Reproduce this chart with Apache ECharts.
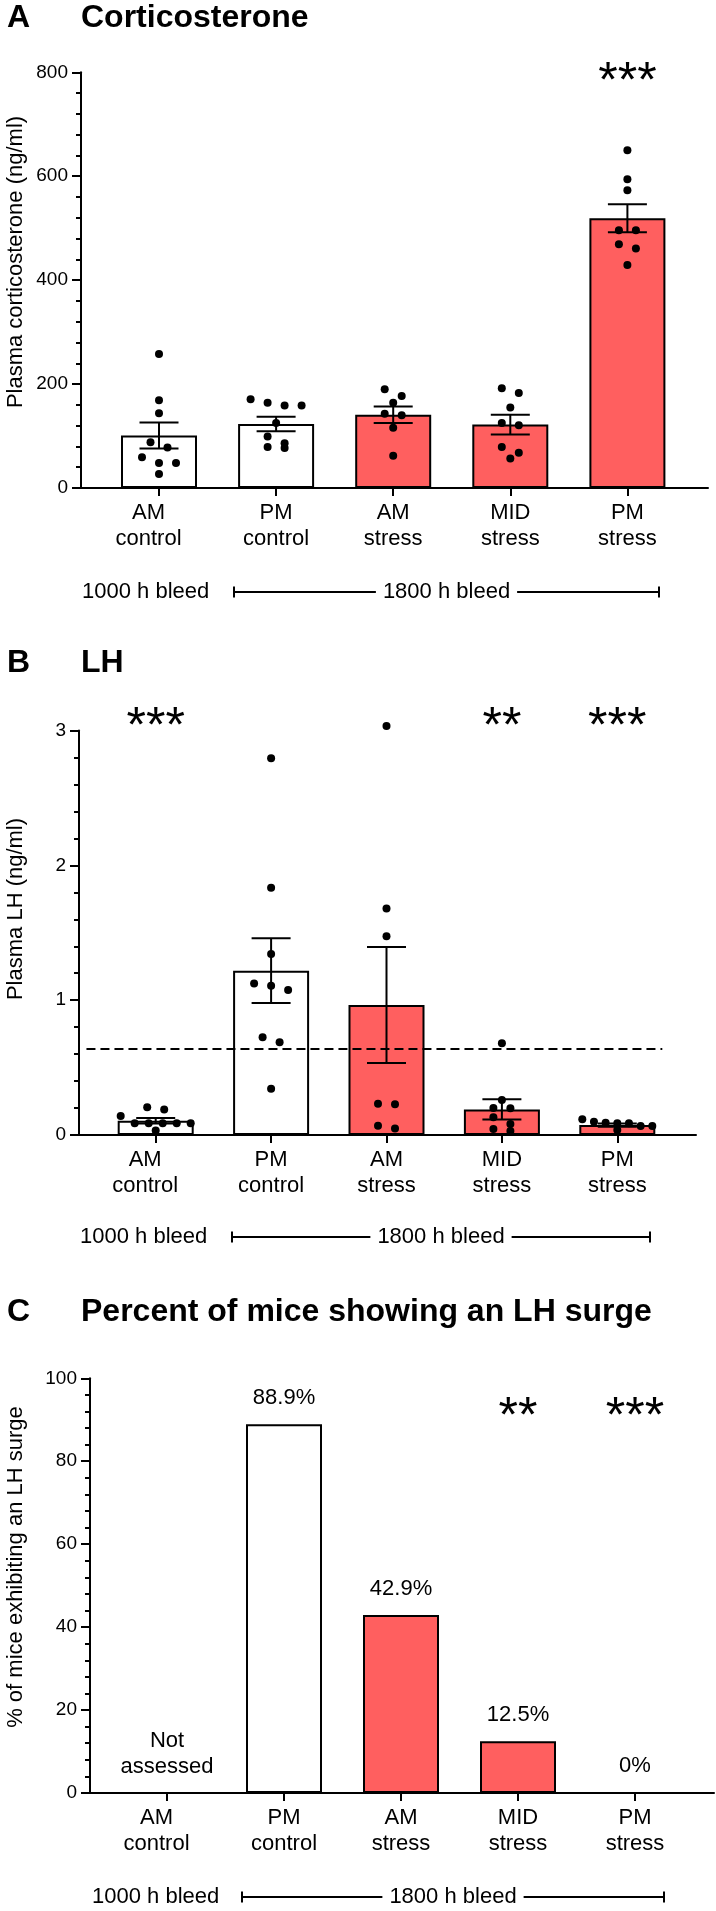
<!DOCTYPE html>
<html>
<head>
<meta charset="utf-8">
<script src="https://cdn.jsdelivr.net/npm/echarts@6/dist/echarts.min.js"></script>
<style>
  html, body { margin: 0; background: #fff; }
  #chart { width: 716px; height: 1911px; }
</style>
</head>
<body>
<div id="chart"></div>
<script>
const groups = ['AM\ncontrol', 'PM\ncontrol', 'AM\nstress', 'MID\nstress', 'PM\nstress']

// A: plasma corticosterone (ng/ml)
const cortMean = [101, 123, 141, 122, 519]
const cortSem = [25, 14, 16, 19, 27]
const cortPoints = [
  [258, 169, 144, 88, 78, 59, 48, 48, 27],
  [171, 164, 159, 159, 125, 99, 86, 79, 77],
  [190, 177, 164, 143, 140, 116, 62],
  [192, 183, 155, 125, 121, 79, 68, 57],
  [650, 594, 573, 496, 496, 469, 461, 429]
]
const cortStars = ['', '', '', '', '***']

// B: plasma LH (ng/ml)
const lhMean = [0.106, 1.219, 0.964, 0.19, 0.074]
const lhSem = [0.02, 0.24, 0.43, 0.075, 0.012]
const lhPoints = [
  [0.205, 0.19, 0.141, 0.087, 0.087, 0.087, 0.087, 0.087, 0.033],
  [2.795, 1.835, 1.343, 1.123, 1.108, 1.076, 0.725, 0.688, 0.344],
  [3.034, 1.681, 1.474, 0.232, 0.228, 0.069, 0.049],
  [0.68, 0.26, 0.2, 0.198, 0.131, 0.082, 0.045, 0.03],
  [0.116, 0.099, 0.09, 0.087, 0.087, 0.067, 0.067, 0.037]
]
const lhThreshold = 0.643
const lhStars = ['***', '', '', '**', '***']

// C: % of mice with an LH surge (null = not assessed)
const surgePct = [null, 88.9, 42.9, 12.5, 0]
const surgeStars = ['', '', '', '**', '***']

const yTicksA = [0, 200, 400, 600, 800]
const yTicksB = [0, 1, 2, 3]
const yTicksC = [0, 20, 40, 60, 80, 100]

const FONT = '"Liberation Sans", Arial, Helvetica, sans-serif'
const RED = '#ff5f5f'
const fills = ['#ffffff', '#ffffff', RED, RED, RED]

// pixel layout of the three panels
const panels = [
  { left: 81, right: 708, top: 72.3, bottom: 488, c0: 159, step: 117.1, ticks: yTicksA, starLevel: 800 },
  { left: 79, right: 696, top: 730.6, bottom: 1135, c0: 155.7, step: 115.4, ticks: yTicksB, starLevel: 3.1 },
  { left: 90, right: 714, top: 1378.3, bottom: 1793, c0: 167, step: 117, ticks: yTicksC, starLevel: 93 }
]

function swarm(vals, pxPerY, pxPerX) {
  const order = vals.map((v, i) => i).sort((a, b) => vals[b] - vals[a])
  const rows = []
  order.forEach(i => {
    const row = rows[rows.length - 1]
    if (row && (vals[row[0]] - vals[i]) * pxPerY < 8) row.push(i)
    else rows.push([i])
  })
  const off = []
  rows.forEach(row => {
    const n = row.length
    const gap = n > 1 ? Math.min(17, 70 / (n - 1)) : 0
    row.forEach((i, k) => { off[i] = (k - (n - 1) / 2) * gap / pxPerX })
  })
  return off
}

function errorBarItem(params, api) {
  const x = api.value(0), m = api.value(1), e = api.value(2)
  const hi = api.coord([x, m + e]), lo = api.coord([x, m - e])
  const w = 19.5
  const style = { stroke: '#000', lineWidth: 2 }
  return {
    type: 'group',
    children: [
      { type: 'line', shape: { x1: hi[0], y1: hi[1], x2: lo[0], y2: lo[1] }, style },
      { type: 'line', shape: { x1: hi[0] - w, y1: hi[1], x2: hi[0] + w, y2: hi[1] }, style },
      { type: 'line', shape: { x1: lo[0] - w, y1: lo[1], x2: lo[0] + w, y2: lo[1] }, style }
    ]
  }
}

const grid = [], xAxis = [], yAxis = [], series = []
const catIdx = groups.map((g, i) => i)
const labelText = { color: '#000', fontSize: 22, lineHeight: 26, fontFamily: FONT }

panels.forEach((p, k) => {
  const yMax = p.ticks[p.ticks.length - 1]
  grid.push({ left: p.left, top: p.top, width: p.right - p.left, height: p.bottom - p.top })
  xAxis.push({
    gridIndex: k, type: 'value',
    min: (p.left - p.c0) / p.step, max: (p.right - p.c0) / p.step,
    axisLine: { onZero: false, lineStyle: { color: '#000', width: 2 } },
    axisTick: { customValues: catIdx, length: 8, lineStyle: { color: '#000', width: 2 } },
    axisLabel: Object.assign({
      customValues: catIdx, margin: 12,
      formatter: v => {
        const i = Math.round(v)
        // first label sits a little left of its tick in the original
        return i === 0 ? groups[i].split('\n').map(s => '{first|' + s + '}').join('\n') : groups[i]
      },
      rich: { first: Object.assign({ padding: [0, 21, 0, 0] }, labelText) }
    }, labelText),
    splitLine: { show: false }
  })
  yAxis.push({
    gridIndex: k, type: 'value', min: 0, max: yMax, interval: p.ticks[1] - p.ticks[0],
    axisLine: { show: true, onZero: false, lineStyle: { color: '#000', width: 2 } },
    axisTick: { show: true, length: 9, lineStyle: { color: '#000', width: 2 } },
    minorTick: { show: true, splitNumber: 5, length: 5, lineStyle: { color: '#000', width: 2 } },
    axisLabel: { color: '#000', fontSize: 19, margin: 13, fontFamily: FONT },
    splitLine: { show: false }
  })
})

function addPanel(k, means, sems, points) {
  const p = panels[k]
  const pxPerY = (p.bottom - p.top) / p.ticks[p.ticks.length - 1]
  const bar = {
    type: 'bar', xAxisIndex: k, yAxisIndex: k, barWidth: 76, z: 2,
    itemStyle: { borderColor: '#000', borderWidth: 2, opacity: 1 },
    data: means.map((m, i) => ({ value: [i, m], itemStyle: { color: fills[i] } }))
  }
  series.push(bar)
  series.push({
    type: 'custom', xAxisIndex: k, yAxisIndex: k, z: 3, clip: false,
    renderItem: errorBarItem,
    data: means.map((m, i) => [i, m, sems[i]])
  })
  const dots = []
  points.forEach((vals, i) => {
    const off = swarm(vals, pxPerY, p.step)
    vals.forEach((v, j) => dots.push([i + off[j], v]))
  })
  series.push({
    type: 'scatter', xAxisIndex: k, yAxisIndex: k, z: 4, clip: false,
    symbolSize: 8, itemStyle: { color: '#000', opacity: 1 }, data: dots
  })
  return bar
}

function addStars(k, stars) {
  series.push({
    type: 'scatter', xAxisIndex: k, yAxisIndex: k, z: 5, clip: false,
    symbolSize: 1, itemStyle: { color: 'rgba(0,0,0,0)', opacity: 1 },
    label: {
      show: true, position: 'inside', offset: [0, 11], formatter: q => q.value[2],
      color: '#000', fontSize: 50, fontFamily: FONT, opacity: 1
    },
    data: stars.map((s, i) => [i, panels[k].starLevel, s]).filter(d => d[2])
  })
}

addPanel(0, cortMean, cortSem, cortPoints)
addStars(0, cortStars)

const lhBar = addPanel(1, lhMean, lhSem, lhPoints)
lhBar.markLine = {
  silent: true, symbol: 'none', label: { show: false },
  lineStyle: { color: '#000', width: 2, type: [9, 5], opacity: 1 },
  data: [[{ coord: [-0.6, lhThreshold] }, { coord: [4.39, lhThreshold] }]]
}
addStars(1, lhStars)

series.push({
  type: 'bar', xAxisIndex: 2, yAxisIndex: 2, barWidth: 76, z: 2,
  itemStyle: { borderColor: '#000', borderWidth: 2, opacity: 1 },
  label: Object.assign({
    show: true, position: 'top', distance: 13,
    formatter: q => q.data.na ? 'Not\nassessed' : q.value[1] + '%'
  }, labelText),
  data: surgePct.map((v, i) => v === null
    ? { value: [i, 0], na: true, itemStyle: { color: 'rgba(0,0,0,0)', borderWidth: 0 } }
    : { value: [i, v], itemStyle: { color: fills[i] } })
})
addStars(2, surgeStars)

// titles, axis names and bleed brackets
const graphic = []
function text(x, y, str, opts) {
  graphic.push({
    type: 'text', x, y,
    style: Object.assign({ text: str, fill: '#000', font: '22px ' + FONT, verticalAlign: 'middle' }, opts || {})
  })
}
function title(y, letter, str) {
  text(7, y, letter, { font: 'bold 32px ' + FONT })
  text(81, y, str, { font: 'bold 32px ' + FONT })
}
title(18, 'A', 'Corticosterone')
title(663, 'B', 'LH')
title(1312, 'C', 'Percent of mice showing an LH surge')

function yName(cy, str) {
  graphic.push({
    type: 'text', x: 16, y: cy, rotation: Math.PI / 2,
    style: { text: str, fill: '#000', font: '22px ' + FONT, align: 'center', verticalAlign: 'middle' }
  })
}
yName(262, 'Plasma corticosterone (ng/ml)')
yName(909, 'Plasma LH (ng/ml)')
yName(1567, '% of mice exhibiting an LH surge')

function bleed(y, x0, x1, x2) {
  text(x0, y, '1000 h bleed')
  const line = { stroke: '#000', lineWidth: 2 }
  graphic.push({ type: 'line', shape: { x1, y1: y, x2, y2: y }, style: line })
  graphic.push({ type: 'line', shape: { x1, y1: y - 5.5, x2: x1, y2: y + 5.5 }, style: line })
  graphic.push({ type: 'line', shape: { x1: x2, y1: y - 5.5, x2, y2: y + 5.5 }, style: line })
  text((x1 + x2) / 2, y, '1800 h bleed', { align: 'center', backgroundColor: '#fff', padding: [0, 7] })
}
bleed(592, 82, 234, 659)
bleed(1237, 80, 232, 650)
bleed(1897, 92, 242, 664)

const chart = echarts.init(document.getElementById('chart'))
chart.setOption({ animation: false, backgroundColor: '#fff', grid, xAxis, yAxis, series, graphic })
</script>
</body>
</html>
